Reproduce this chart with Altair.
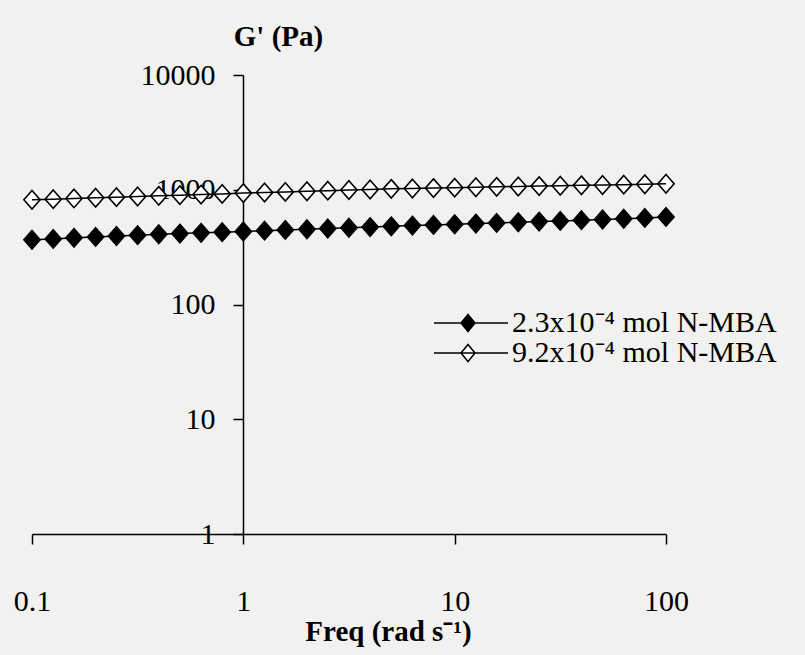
import altair as alt
import pandas as pd

# Oscillation frequency sweep (rad/s), ten points per decade
freq = [0.1, 0.126, 0.158, 0.2, 0.251, 0.316, 0.398, 0.501, 0.631, 0.794,
        1.0, 1.26, 1.58, 2.0, 2.51, 3.16, 3.98, 5.01, 6.31, 7.94,
        10.0, 12.6, 15.8, 20.0, 25.1, 31.6, 39.8, 50.1, 63.1, 79.4, 100.0]

# Storage modulus G' (Pa) for the two cross-linker contents
g_low = [367, 373, 381, 388, 395, 402, 409, 415, 421, 427,
         433, 440, 447, 453, 460, 466, 473, 480, 487, 494,
         500, 507, 514, 521, 528, 535, 543, 551, 559, 568, 580]
g_high = [818, 828, 840, 851, 862, 874, 885, 897, 908, 920,
          935, 946, 958, 970, 982, 995, 1005, 1018, 1026, 1034,
          1043, 1051, 1060, 1068, 1076, 1084, 1092, 1100, 1108, 1117, 1128]

series_names = ["2.3x10\u207b\u2074 mol N-MBA", "9.2x10\u207b\u2074 mol N-MBA"]

x_ticks = [0.1, 1, 10, 100]
y_ticks = [1, 10, 100, 1000, 10000]

df = pd.concat([
    pd.DataFrame({"freq": freq, "G": g_low, "series": series_names[0]}),
    pd.DataFrame({"freq": freq, "G": g_high, "series": series_names[1]}),
])

FONT = "Liberation Serif"
DIAMOND = "M0,-1L0.88,0L0,1L-0.88,0Z"
# legend glyph: a short line with a diamond in its middle
LEGEND_GLYPH = "M-1,0H6.4M2.4,-0.85L3.1,0L2.4,0.85L1.7,0Z"

x_enc = alt.X(
    "freq:Q",
    scale=alt.Scale(type="log", domain=[0.1, 100], nice=False),
    axis=alt.Axis(
        values=x_ticks, format="~g", title="Freq (rad s\u207b\u00b9)",
        grid=False, domainColor="black", domainWidth=1.5, tickColor="black",
        tickWidth=1.5, tickSize=10, labelFont=FONT, labelFontSize=30,
        labelColor="black", labelPadding=42, labelAlign="center",
        titleFont=FONT, titleFontSize=29, titleFontWeight="bold",
        titleColor="black", titleX=356, titleY=106, titleAlign="center",
        titleBaseline="alphabetic",
    ),
)
y_enc = alt.Y(
    "G:Q",
    scale=alt.Scale(type="log", domain=[1, 10000], nice=False),
    axis=alt.Axis(
        values=y_ticks, format="d", title="G' (Pa)", offset=-211,
        grid=False, domainColor="black", domainWidth=1.5, tickColor="black",
        tickWidth=1.5, tickSize=10, labelFont=FONT, labelFontSize=30,
        labelColor="black", labelPadding=18,
        titleFont=FONT, titleFontSize=29, titleFontWeight="bold",
        titleColor="black", titleAngle=0, titleX=35, titleY=-30,
        titleAlign="center", titleBaseline="alphabetic",
    ),
)

# diamonds first, so the connecting line shows through the open markers
points = alt.Chart(df).mark_point(
    shape=DIAMOND, size=340, filled=True, opacity=1,
    stroke="black", strokeWidth=1.6,
).encode(
    x=x_enc, y=y_enc,
    fill=alt.Fill(
        "series:N",
        scale=alt.Scale(domain=series_names, range=["black", "white"]),
        legend=alt.Legend(
            title=None, orient="none", legendX=397, legendY=233, padding=0,
            symbolType=LEGEND_GLYPH, symbolSize=400,
            symbolStrokeColor="black", symbolStrokeWidth=1.5, symbolOpacity=1,
            labelFont=FONT, labelFontSize=30, labelColor="black",
            labelLimit=0, labelOffset=53, rowPadding=-8,
        ),
    ),
)

lines = alt.Chart(df).mark_line(color="black", strokeWidth=1.5).encode(
    x=x_enc, y=y_enc, detail="series:N"
)

chart = alt.layer(points, lines).properties(
    width=634, height=459,
    autosize=alt.AutoSizeParams(type="none"),
    padding={"left": 32, "top": 75, "right": 139, "bottom": 121},
    background="#f1f1ef",
).configure_view(stroke=None)

chart.save("out.html", embed_options={"renderer": "svg", "actions": False})
